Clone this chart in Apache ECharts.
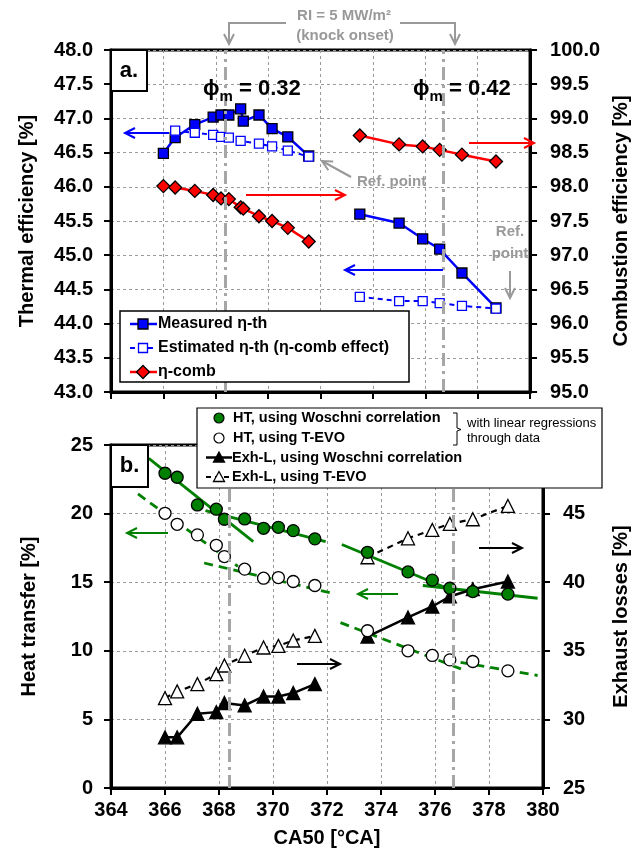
<!DOCTYPE html>
<html>
<head>
<meta charset="utf-8">
<script src="https://cdn.jsdelivr.net/npm/echarts@6/dist/echarts.min.js"></script>
<style>
  html, body { margin: 0; padding: 0; background: #fff; }
  #chart { width: 639px; height: 850px; }
</style>
</head>
<body>
<div id="chart"></div>
<script>
// ---------- data ----------
// CA50 sweep points, phi_m = 0.32 (efficiency panel) and phi_m = 0.42
const caLowEff  = [366.0, 366.45, 367.2, 367.9, 368.2, 368.5, 368.95, 369.05, 369.65, 370.15, 370.75, 371.55];
const caLowEst  = [366.45, 367.2, 367.9, 368.2, 368.5, 368.95, 369.65, 370.15, 370.75, 371.55];
const caHigh    = [373.5, 375.0, 375.9, 376.55, 377.4, 378.7];

// Thermal efficiency [%]
const etaThMeasLow  = [46.49, 46.72, 46.91, 47.02, 47.05, 47.05, 47.14, 46.96, 47.05, 46.85, 46.73, 46.45];
const etaThMeasHigh = [45.60, 45.47, 45.24, 45.09, 44.74, 44.23];
const etaThEstLow   = [46.82, 46.79, 46.76, 46.73, 46.72, 46.67, 46.63, 46.59, 46.53, 46.44];
const etaThEstHigh  = [44.39, 44.33, 44.33, 44.30, 44.26, 44.22];
// Combustion efficiency [%]
const etaCombLow  = [98.01, 97.99, 97.94, 97.88, 97.83, 97.82, 97.70, 97.68, 97.57, 97.50, 97.40, 97.20];
const etaCombHigh = [98.75, 98.62, 98.59, 98.54, 98.47, 98.37];

// Loss panel
const caLowLoss = [366.0, 366.45, 367.2, 367.9, 368.2, 368.95, 369.65, 370.2, 370.75, 371.55];
const htWoschniLow  = [22.94, 22.65, 20.63, 20.32, 19.59, 19.61, 18.93, 19.00, 18.76, 18.16];
const htWoschniHigh = [17.18, 15.75, 15.15, 14.56, 14.32, 14.13];
const htTevoLow     = [20.02, 19.22, 18.45, 17.69, 16.87, 15.95, 15.29, 15.34, 15.05, 14.76];
const htTevoHigh    = [11.46, 10.00, 9.66, 9.34, 9.22, 8.54];
const exhWoschniLow  = [28.69, 28.69, 30.41, 30.53, 31.19, 31.02, 31.67, 31.67, 31.92, 32.57];
const exhWoschniHigh = [36.04, 37.43, 38.23, 38.96, 39.49, 40.05];
const exhTevoLow     = [31.55, 32.04, 32.57, 33.30, 33.93, 34.64, 35.24, 35.36, 35.75, 36.09];
const exhTevoHigh    = [41.82, 43.20, 43.81, 44.25, 44.59, 45.56];

// Linear regression segments through the heat-transfer data: [[x0, y0], [x1, y1]]
const regWoschni = [
  [[365.4, 24.03], [369.27, 17.96]],
  [[367.5, 20.22], [371.95, 17.96]],
  [[372.55, 17.75], [376.65, 14.40]],
  [[375.55, 14.76], [379.8, 13.83]]
];
const regTevo = [
  [[365.0, 21.43], [368.7, 16.15]],
  [[367.45, 16.40], [372.3, 14.15]],
  [[372.5, 12.05], [377.0, 8.65]],
  [[376.4, 9.35], [379.8, 8.20]]
];

// Knock-onset CA50 (RI = 5 MW/m^2)
const knockOnset = [368.37, 376.68];

// Axis ranges and tick steps
const caRange = [364, 380], caStep = 2;
const thermalRange = [43, 48], combRange = [95, 100], effStep = 0.5;
const htRange = [0, 25], exhRange = [25, 50], lossStep = 5;

// ---------- styling ----------
const FONT = '"Liberation Sans", Arial, Helvetica, sans-serif';
const BLUE = '#0000ff', RED = '#ff0000', GREEN = '#008000', GREY = '#999999';
const pair = (xs, ys) => xs.map((x, i) => [x, ys[i]]);

const axisLine = { show: true, onZero: false, lineStyle: { color: '#000', width: 3 } };
const axisTick = { show: true, length: 7, lineStyle: { color: '#000', width: 2 } };
const gridLine = { show: true, lineStyle: { color: '#9a9a9a', width: 1, type: [3, 3] } };
const tickFont = { fontFamily: FONT, fontSize: 20, fontWeight: 'bold', color: '#000' };
const nameFont = { fontFamily: FONT, fontSize: 20, fontWeight: 'bold', color: '#000' };

function knockLines(){
  return {
    silent: true, symbol: 'none', label: { show: false },
    lineStyle: { color: '#a6a6a6', width: 3, type: [13, 5, 3, 5] },
    data: knockOnset.map(v => ({ xAxis: v }))
  };
}

function lineSeries(name, xi, yi, data, color, lw, dash, symbol, size, fill, border, extra){
  return Object.assign({
    name, type: 'line', xAxisIndex: xi, yAxisIndex: yi, data,
    symbol, symbolSize: size,
    lineStyle: { color, width: lw, type: dash || 'solid' },
    itemStyle: { color: fill, borderColor: border, borderWidth: 1.3 },
    emphasis: { disabled: true }
  }, extra || {});
}

function scatterSeries(name, xi, yi, data, symbol, size, fill, z){
  return {
    name, type: 'scatter', xAxisIndex: xi, yAxisIndex: yi, data, symbol, symbolSize: size, z,
    itemStyle: { color: fill, borderColor: '#000', borderWidth: 1.3, opacity: 1 },
    emphasis: { disabled: true }
  };
}

function segSeries(segs, dashed){
  return segs.map(s => ({
    type: 'line', xAxisIndex: 1, yAxisIndex: 2, data: s, symbol: 'none', z: 1,
    lineStyle: { color: GREEN, width: 2.8, type: dashed ? [9, 6] : 'solid' },
    emphasis: { disabled: true }
  }));
}

const series = [
  // thermal / combustion efficiency panel
  lineSeries('Measured η-th', 0, 0, pair(caLowEff, etaThMeasLow), BLUE, 2.5, null, 'rect', 10, BLUE, '#000', { markLine: knockLines(), z: 3 }),
  lineSeries('Measured η-th', 0, 0, pair(caHigh, etaThMeasHigh), BLUE, 2.5, null, 'rect', 10, BLUE, '#000', { z: 3 }),
  lineSeries('Estimated η-th (η-comb effect)', 0, 0, pair(caLowEst, etaThEstLow), BLUE, 2, [5, 4], 'rect', 9, '#fff', BLUE, { z: 4 }),
  lineSeries('Estimated η-th (η-comb effect)', 0, 0, pair(caHigh, etaThEstHigh), BLUE, 2, [5, 4], 'rect', 9, '#fff', BLUE, { z: 4 }),
  lineSeries('η-comb', 0, 1, pair(caLowEff, etaCombLow), RED, 2.5, null, 'diamond', 13, RED, '#000', { z: 3 }),
  lineSeries('η-comb', 0, 1, pair(caHigh, etaCombHigh), RED, 2.5, null, 'diamond', 13, RED, '#000', { z: 3 }),

  // heat transfer / exhaust losses panel
  ...segSeries(regWoschni, false),
  ...segSeries(regTevo, true),
  lineSeries('Exh-L, using Woschni correlation', 1, 3, pair(caLowLoss, exhWoschniLow), '#000', 2.5, null, 'triangle', 13, '#000', '#000', { markLine: knockLines(), z: 3 }),
  lineSeries('Exh-L, using Woschni correlation', 1, 3, pair(caHigh, exhWoschniHigh), '#000', 2.5, null, 'triangle', 13, '#000', '#000', { z: 3 }),
  lineSeries('Exh-L, using T-EVO', 1, 3, pair(caLowLoss, exhTevoLow), '#000', 2.2, [6, 5], 'triangle', 13, '#fff', '#000', { z: 3 }),
  lineSeries('Exh-L, using T-EVO', 1, 3, pair(caHigh, exhTevoHigh), '#000', 2.2, [6, 5], 'triangle', 13, '#fff', '#000', { z: 3 }),
  scatterSeries('HT, using Woschni correlation', 1, 2, pair(caLowLoss, htWoschniLow).concat(pair(caHigh, htWoschniHigh)), 'circle', 12, GREEN, 4),
  scatterSeries('HT, using T-EVO', 1, 2, pair(caLowLoss, htTevoLow).concat(pair(caHigh, htTevoHigh)), 'circle', 12, '#fff', 4)
];

// ---------- annotations ----------
function arrow(x1, y1, x2, y2, color, w){
  const a = Math.atan2(y2 - y1, x2 - x1), L = 10, H = 5;
  const p1 = [x2 - L * Math.cos(a) + H * Math.sin(a), y2 - L * Math.sin(a) - H * Math.cos(a)];
  const p2 = [x2 - L * Math.cos(a) - H * Math.sin(a), y2 - L * Math.sin(a) + H * Math.cos(a)];
  return [
    { type: 'line', shape: { x1, y1, x2, y2 }, style: { stroke: color, lineWidth: w } },
    { type: 'polyline', shape: { points: [p1, [x2, y2], p2] }, style: { stroke: color, lineWidth: w, fill: null } }
  ];
}
function txt(x, y, text, size, weight, color, align){
  return { type: 'text', x, y, style: { text, fontFamily: FONT, fontSize: size, fontWeight: weight || 'bold', fill: color || '#000', align: align || 'left', verticalAlign: 'middle' } };
}
function phiLabel(x, y, value){
  return {
    type: 'text', x, y,
    style: {
      text: '{p|ϕ}{s|m}{p| = ' + value + '}',
      verticalAlign: 'middle', fill: '#000',
      rich: {
        p: { fontFamily: FONT, fontSize: 22, fontWeight: 'bold', lineHeight: 26, verticalAlign: 'bottom' },
        s: { fontFamily: FONT, fontSize: 15, fontWeight: 'bold', lineHeight: 15, verticalAlign: 'bottom', padding: [0, 0, -4, 0] }
      }
    }
  };
}
const sq = (cx, cy, s, fill, stroke) => ({ type: 'rect', shape: { x: cx - s / 2, y: cy - s / 2, width: s, height: s }, style: { fill, stroke, lineWidth: 1.3 } });
const diamond = (cx, cy, s, fill) => ({ type: 'polygon', shape: { points: [[cx, cy - s / 2], [cx + s / 2, cy], [cx, cy + s / 2], [cx - s / 2, cy]] }, style: { fill, stroke: '#000', lineWidth: 1.3 } });
const tri = (cx, cy, s, fill) => ({ type: 'polygon', shape: { points: [[cx, cy - s / 2], [cx + s / 2, cy + s / 2 - 1], [cx - s / 2, cy + s / 2 - 1]] }, style: { fill, stroke: '#000', lineWidth: 1.3 } });
const seg = (x1, y1, x2, y2, color, w, dash) => ({ type: 'line', shape: { x1, y1, x2, y2 }, style: { stroke: color, lineWidth: w, lineDash: dash || null } });

const graphics = [
  // knock-onset bracket above the top panel
  txt(344, 16, 'RI = 5 MW/m²', 15, 'bold', GREY, 'center'),
  txt(345, 36, '(knock onset)', 15, 'bold', GREY, 'center'),
  { type: 'polyline', shape: { points: [[286, 23], [229, 23], [229, 44]] }, style: { stroke: GREY, lineWidth: 2, fill: null } },
  { type: 'polyline', shape: { points: [[400, 23], [455, 23], [455, 44]] }, style: { stroke: GREY, lineWidth: 2, fill: null } },
  ...arrow(229, 30, 229, 44, GREY, 2),
  ...arrow(455, 30, 455, 44, GREY, 2),

  // panel tags
  { type: 'rect', shape: { x: 111, y: 50, width: 36, height: 41 }, style: { fill: '#fff', stroke: '#000', lineWidth: 2 } },
  txt(129, 71, 'a.', 22, 'bold', '#000', 'center'),
  { type: 'rect', shape: { x: 111, y: 445, width: 37, height: 42 }, style: { fill: '#fff', stroke: '#000', lineWidth: 2 } },
  txt(129.5, 466, 'b.', 22, 'bold', '#000', 'center'),

  phiLabel(203, 87, '0.32'),
  phiLabel(413, 87, '0.42'),

  // axis-direction arrows, efficiency panel
  ...arrow(169, 133, 125, 133, BLUE, 2),
  ...arrow(246, 195, 345, 195, RED, 2),
  ...arrow(469, 143, 534, 143, RED, 2),
  ...arrow(443, 270, 345, 270, BLUE, 2),

  // reference points
  txt(357, 182, 'Ref. point', 15, 'bold', GREY, 'left'),
  ...arrow(351, 177, 322, 161, GREY, 2),
  txt(510, 232, 'Ref.', 15, 'bold', GREY, 'center'),
  txt(510, 254, 'point', 15, 'bold', GREY, 'center'),
  ...arrow(510, 271, 510, 298, GREY, 2),

  // axis-direction arrows, loss panel
  ...arrow(168, 533, 127, 533, GREEN, 2),
  ...arrow(398, 594, 358, 594, GREEN, 2),
  ...arrow(479, 548, 522, 548, '#000', 2),
  ...arrow(297, 664, 340, 664, '#000', 2),

  // legend, efficiency panel
  { type: 'rect', shape: { x: 120, y: 311, width: 289, height: 71 }, style: { fill: '#fff', stroke: '#000', lineWidth: 1.5 } },
  seg(130, 324, 157, 324, BLUE, 2.5), sq(143, 324, 10, BLUE, '#000'),
  txt(158, 324, 'Measured η-th', 16),
  seg(130, 348, 157, 348, BLUE, 2, [5, 4]), sq(143, 348, 9, '#fff', BLUE),
  txt(158, 348, 'Estimated η-th (η-comb effect)', 16),
  seg(130, 372, 157, 372, RED, 2.5), diamond(143, 372, 13, RED),
  txt(158, 372, 'η-comb', 16),

  // legend, loss panel
  { type: 'rect', shape: { x: 197, y: 408, width: 405, height: 80 }, style: { fill: '#fff', stroke: '#000', lineWidth: 1.2 } },
  { type: 'circle', shape: { cx: 219, cy: 418, r: 5 }, style: { fill: GREEN, stroke: '#000', lineWidth: 1.2 } },
  txt(233, 418, 'HT, using Woschni correlation', 14.5),
  { type: 'circle', shape: { cx: 219, cy: 438, r: 5 }, style: { fill: '#fff', stroke: '#000', lineWidth: 1.2 } },
  txt(233, 438, 'HT, using T-EVO', 14.5),
  seg(206, 457.5, 232, 457.5, '#000', 2.5), tri(219, 457.5, 11, '#000'),
  txt(232, 457.5, 'Exh-L, using Woschni correlation', 14.5),
  seg(206, 477, 232, 477, '#000', 2, [5, 4]), tri(219, 477, 11, '#fff'),
  txt(232, 477, 'Exh-L, using T-EVO', 14.5),
  { type: 'polyline', shape: { points: [[453, 413], [457, 413], [457, 428], [461, 429.5], [457, 431], [457, 445], [453, 445]] }, style: { stroke: '#000', lineWidth: 1, fill: null } },
  txt(467, 423, 'with linear regressions', 13, 'normal'),
  txt(467, 438, 'through data', 13, 'normal')
].map(g => Object.assign({ z: 100, silent: true }, g));

// ---------- chart ----------
const chart = echarts.init(document.getElementById('chart'), null, { renderer: 'canvas' });
chart.setOption({
  animation: false,
  backgroundColor: '#fff',
  textStyle: { fontFamily: FONT },
  grid: [
    { left: 111, right: 95, top: 50, height: 342, show: true, borderColor: '#000', borderWidth: 3, containLabel: false },
    { left: 111, right: 95, top: 445, height: 343, show: true, borderColor: '#000', borderWidth: 3, containLabel: false }
  ],
  xAxis: [
    { gridIndex: 0, type: 'value', min: caRange[0], max: caRange[1], interval: caStep,
      axisLine, axisTick, axisLabel: { show: false }, splitLine: gridLine },
    { gridIndex: 1, type: 'value', min: caRange[0], max: caRange[1], interval: caStep,
      axisLine, axisTick, axisLabel: Object.assign({ margin: 12 }, tickFont), splitLine: gridLine,
      name: 'CA50 [°CA]', nameLocation: 'middle', nameGap: 40, nameTextStyle: nameFont }
  ],
  yAxis: [
    { gridIndex: 0, type: 'value', position: 'left', min: thermalRange[0], max: thermalRange[1], interval: effStep,
      axisLine, axisTick, splitLine: gridLine,
      axisLabel: Object.assign({ margin: 18, formatter: v => v.toFixed(1) }, tickFont),
      name: 'Thermal efficiency [%]', nameLocation: 'middle', nameGap: 74, nameTextStyle: nameFont },
    { gridIndex: 0, type: 'value', position: 'right', min: combRange[0], max: combRange[1], interval: effStep,
      axisLine, axisTick, splitLine: { show: false },
      axisLabel: Object.assign({ margin: 20, formatter: v => v.toFixed(1) }, tickFont),
      name: 'Combustion efficiency [%]', nameLocation: 'middle', nameGap: 80, nameTextStyle: nameFont },
    { gridIndex: 1, type: 'value', position: 'left', min: htRange[0], max: htRange[1], interval: lossStep,
      axisLine, axisTick, splitLine: gridLine,
      axisLabel: Object.assign({ margin: 18 }, tickFont),
      name: 'Heat transfer [%]', nameLocation: 'middle', nameGap: 72, nameTextStyle: nameFont },
    { gridIndex: 1, type: 'value', position: 'right', min: exhRange[0], max: exhRange[1], interval: lossStep,
      axisLine, axisTick, splitLine: { show: false },
      axisLabel: Object.assign({ margin: 20, formatter: v => (v >= exhRange[1] ? '' : String(v)) }, tickFont),
      name: 'Exhaust losses [%]', nameLocation: 'middle', nameGap: 68, nameTextStyle: nameFont }
  ],
  series,
  graphic: { elements: graphics }
});
</script>
</body>
</html>
